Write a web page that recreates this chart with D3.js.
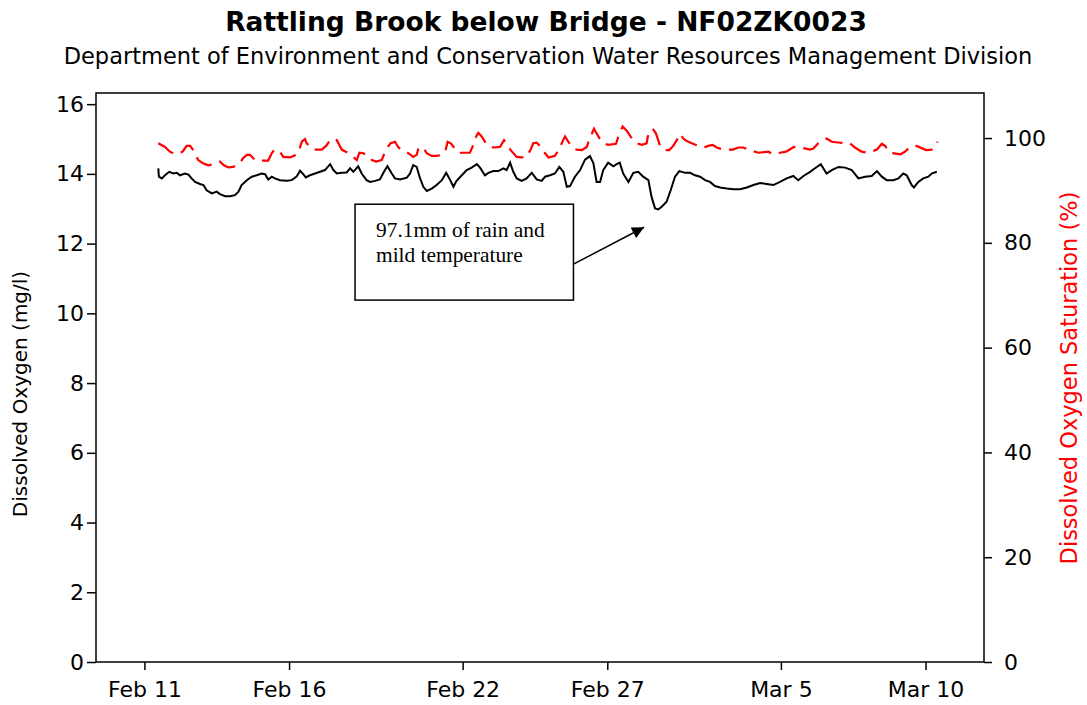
<!DOCTYPE html>
<html lang="en">
<head>
<meta charset="utf-8">
<title>Rattling Brook below Bridge - NF02ZK0023</title>
<script src="https://d3js.org/d3.v7.min.js"></script>
<style>
  body { margin: 0; background: #fff; }
  svg { display: block; font-family: "DejaVu Sans", Verdana, sans-serif; }
</style>
</head>
<body>
<script>
// days counted from Feb 11 00:00
const startDate = new Date(2010, 1, 11);
const xDomain = [new Date(2010, 1, 9, 7, 50), new Date(2010, 2, 12, 0, 30)];
const xTickDates = [new Date(2010, 1, 11), new Date(2010, 1, 16), new Date(2010, 1, 22),
                    new Date(2010, 1, 27), new Date(2010, 2, 5), new Date(2010, 2, 10)];
const yLeftTicks = [0, 2, 4, 6, 8, 10, 12, 14, 16];
const yRightTicks = [0, 20, 40, 60, 80, 100];

// dissolved oxygen, mg/l  [day, value]
const oxygenMgL = [[0.48,14.16],[0.50,13.92],[0.60,13.87],[0.71,13.96],[0.86,14.06],[1.00,14.01],[1.12,14.03],[1.23,13.96],[1.40,14.01],[1.52,13.98],[1.63,13.87],[1.75,13.77],[1.92,13.71],[2.04,13.68],[2.15,13.53],[2.33,13.44],[2.50,13.49],[2.61,13.42],[2.79,13.36],[2.96,13.36],[3.13,13.39],[3.25,13.49],[3.36,13.68],[3.54,13.82],[3.71,13.92],[3.88,13.96],[4.05,14.01],[4.17,13.99],[4.28,13.84],[4.40,13.92],[4.51,13.87],[4.69,13.82],[4.92,13.80],[5.09,13.82],[5.26,13.92],[5.38,14.09],[5.49,13.99],[5.58,13.90],[5.72,13.96],[5.90,14.01],[6.07,14.06],[6.24,14.11],[6.42,14.28],[6.53,14.11],[6.65,14.01],[6.82,14.03],[6.99,14.04],[7.11,14.16],[7.22,14.06],[7.39,14.22],[7.51,14.01],[7.68,13.82],[7.80,13.77],[7.97,13.80],[8.14,13.84],[8.28,14.06],[8.40,14.22],[8.55,14.01],[8.66,13.87],[8.84,13.84],[9.07,13.89],[9.18,14.01],[9.29,14.25],[9.41,14.20],[9.53,13.87],[9.64,13.63],[9.76,13.51],[9.93,13.58],[10.10,13.68],[10.28,13.82],[10.43,14.03],[10.54,13.87],[10.68,13.63],[10.79,13.80],[10.97,13.96],[11.14,14.11],[11.31,14.18],[11.49,14.28],[11.60,14.18],[11.77,13.96],[11.89,14.03],[12.06,14.08],[12.23,14.08],[12.41,14.16],[12.52,14.11],[12.64,14.32],[12.75,14.06],[12.87,13.87],[13.04,13.80],[13.21,13.87],[13.39,14.03],[13.56,13.84],[13.73,13.80],[13.85,13.92],[14.02,13.96],[14.19,14.01],[14.34,14.20],[14.48,14.06],[14.60,13.63],[14.71,13.65],[14.88,13.92],[15.06,14.11],[15.23,14.41],[15.40,14.51],[15.52,14.30],[15.63,13.77],[15.75,13.77],[15.86,14.11],[16.03,14.32],[16.21,14.22],[16.32,14.28],[16.43,14.32],[16.55,14.01],[16.73,13.77],[16.90,14.03],[17.07,14.06],[17.24,13.92],[17.42,13.82],[17.53,13.34],[17.65,13.01],[17.76,12.98],[17.88,13.06],[18.05,13.20],[18.19,13.53],[18.34,13.92],[18.49,14.08],[18.69,14.03],[18.86,14.03],[19.03,13.96],[19.21,13.92],[19.38,13.82],[19.55,13.77],[19.72,13.65],[19.90,13.61],[20.13,13.58],[20.36,13.56],[20.59,13.56],[20.82,13.61],[21.05,13.68],[21.28,13.74],[21.51,13.71],[21.74,13.68],[21.97,13.77],[22.20,13.87],[22.43,13.94],[22.60,13.82],[22.78,13.94],[23.01,14.06],[23.18,14.16],[23.38,14.28],[23.58,14.01],[23.76,14.11],[23.99,14.20],[24.22,14.18],[24.45,14.11],[24.68,13.87],[24.91,13.92],[25.14,13.94],[25.32,14.08],[25.49,13.92],[25.66,13.82],[25.89,13.82],[26.06,13.87],[26.23,14.01],[26.35,13.96],[26.52,13.68],[26.60,13.61],[26.75,13.77],[26.92,13.87],[27.10,13.92],[27.21,14.01],[27.39,14.06]];

// dissolved oxygen saturation, %  [day, value]
const saturationPct = [[0.48,99.0],[0.71,98.3],[0.88,97.4],[1.06,96.9],[1.20,97.1],[1.32,97.4],[1.46,98.5],[1.58,98.5],[1.69,97.7],[1.75,96.9],[1.86,95.8],[2.02,95.2],[2.21,94.8],[2.38,95.0],[2.61,95.5],[2.75,94.8],[2.90,94.4],[3.07,94.5],[3.30,95.2],[3.40,96.1],[3.54,96.8],[3.65,96.8],[3.82,95.8],[4.00,95.7],[4.28,95.7],[4.40,97.1],[4.48,97.7],[4.66,97.6],[4.80,96.4],[5.03,96.3],[5.17,96.6],[5.32,97.2],[5.44,99.3],[5.55,99.8],[5.61,99.0],[5.78,98.0],[5.93,97.8],[6.13,97.8],[6.28,98.5],[6.42,99.6],[6.53,99.9],[6.65,99.6],[6.82,97.8],[7.05,97.1],[7.22,96.4],[7.34,95.8],[7.43,97.2],[7.57,97.1],[7.80,96.3],[7.86,95.8],[8.01,95.5],[8.20,95.8],[8.37,98.0],[8.51,99.0],[8.66,99.3],[8.78,98.2],[8.95,97.7],[9.18,96.9],[9.29,96.4],[9.41,96.8],[9.47,98.0],[9.62,98.3],[9.76,97.1],[9.93,96.6],[10.10,96.6],[10.28,96.8],[10.40,97.4],[10.48,99.3],[10.59,99.0],[10.73,98.0],[10.85,97.2],[11.02,97.2],[11.25,97.2],[11.34,98.3],[11.43,99.9],[11.54,101.0],[11.66,100.3],[11.77,99.3],[11.95,98.3],[12.08,98.2],[12.29,98.3],[12.43,99.6],[12.52,98.9],[12.66,97.7],[12.87,96.4],[13.04,96.3],[13.21,96.4],[13.35,97.8],[13.44,99.0],[13.56,99.1],[13.73,98.2],[13.85,97.1],[13.97,96.3],[14.19,96.6],[14.37,98.2],[14.40,98.7],[14.48,99.7],[14.54,100.3],[14.65,99.3],[14.83,98.0],[14.94,97.8],[15.12,97.7],[15.29,98.3],[15.40,100.0],[15.54,101.8],[15.66,100.6],[15.77,99.6],[15.86,99.0],[16.03,98.7],[16.30,98.9],[16.42,100.9],[16.53,102.2],[16.67,101.4],[16.79,100.4],[16.90,99.5],[17.02,99.0],[17.19,98.7],[17.36,99.0],[17.40,100.3],[17.57,101.8],[17.68,100.9],[17.76,99.6],[17.82,98.5],[17.99,97.7],[18.14,97.7],[18.28,98.5],[18.40,99.6],[18.51,100.8],[18.63,99.9],[18.72,99.5],[18.92,99.0],[19.15,98.5],[19.34,98.2],[19.49,98.5],[19.64,98.7],[19.78,98.2],[20.01,97.8],[20.34,97.8],[20.53,98.2],[20.70,98.2],[20.93,97.7],[21.22,97.2],[21.57,97.4],[21.74,96.9],[21.97,97.2],[22.18,97.4],[22.45,98.3],[22.66,98.2],[23.01,97.8],[23.12,98.0],[23.29,99.0],[23.45,99.6],[23.58,99.9],[23.76,99.3],[24.04,99.1],[24.39,99.0],[24.56,98.2],[24.79,97.4],[25.02,97.2],[25.32,97.8],[25.49,98.9],[25.60,98.5],[25.77,97.2],[26.14,96.9],[26.29,97.4],[26.46,98.3],[26.69,98.5],[27.02,97.7],[27.21,97.8],[27.39,99.0],[27.41,99.3]];

// note box, in chart units (day, mg/l)
const noteLines = ["97.1mm of rain and", "mild temperature"];
const noteBox = { from: 7.28, to: 14.83, top: 13.13, bottom: 10.38 };
const noteArrow = { from: [14.83, 11.41], to: [17.27, 12.47] };

const w = 1087, h = 705;
const plotLeft = 96, plotRight = 984, plotTop = 93, plotBottom = 662;

const toDate = d => new Date(startDate.getTime() + d * 864e5);

const x = d3.scaleTime().domain(xDomain).range([plotLeft, plotRight]);
const yL = d3.scaleLinear().domain([0, 16.32]).range([plotBottom, plotTop]);
const yR = d3.scaleLinear().domain([0, 108.6]).range([plotBottom, plotTop]);

const svg = d3.select("body").append("svg")
  .attr("width", w)
  .attr("height", h);

// titles
svg.append("text")
  .attr("x", 546).attr("y", 31)
  .attr("text-anchor", "middle")
  .attr("font-weight", "bold")
  .attr("font-size", 26.5)
  .text("Rattling Brook below Bridge - NF02ZK0023");

svg.append("text")
  .attr("x", 548).attr("y", 64)
  .attr("text-anchor", "middle")
  .attr("font-size", 22.5)
  .text("Department of Environment and Conservation Water Resources Management Division");

// lines
const oxyLine = d3.line()
  .x(d => x(toDate(d[0])))
  .y(d => yL(d[1]));

const satLine = d3.line()
  .x(d => x(toDate(d[0])))
  .y(d => yR(d[1]));

svg.append("path")
  .datum(saturationPct)
  .attr("d", satLine)
  .attr("fill", "none")
  .attr("stroke", "#ff0000")
  .attr("stroke-width", 2.2)
  .attr("stroke-dasharray", "18,8");

svg.append("path")
  .datum(oxygenMgL)
  .attr("d", oxyLine)
  .attr("fill", "none")
  .attr("stroke", "#000")
  .attr("stroke-width", 2);

// frame
svg.append("rect")
  .attr("x", plotLeft).attr("y", plotTop)
  .attr("width", plotRight - plotLeft).attr("height", plotBottom - plotTop)
  .attr("fill", "none")
  .attr("stroke", "#000")
  .attr("stroke-width", 1.5);

// axes
const xAxis = d3.axisBottom(x)
  .tickValues(xTickDates)
  .tickFormat(d3.timeFormat("%b %-d"))
  .tickSize(8).tickSizeOuter(0).tickPadding(11);

const leftAxis = d3.axisLeft(yL)
  .tickValues(yLeftTicks)
  .tickSize(9).tickSizeOuter(0).tickPadding(3);

const rightAxis = d3.axisRight(yR)
  .tickValues(yRightTicks)
  .tickSize(8).tickSizeOuter(0).tickPadding(12);

function styleAxis(g) {
  g.select(".domain").remove();
  g.selectAll(".tick line").attr("stroke", "#000").attr("stroke-width", 1.5);
  g.selectAll(".tick text").attr("fill", "#000");
  g.attr("font-family", "DejaVu Sans, Verdana, sans-serif").attr("font-size", 22);
}

svg.append("g")
  .attr("transform", "translate(0," + plotBottom + ")")
  .call(xAxis).call(styleAxis);

svg.append("g")
  .attr("transform", "translate(" + plotLeft + ",0)")
  .call(leftAxis).call(styleAxis);

svg.append("g")
  .attr("transform", "translate(" + plotRight + ",0)")
  .call(rightAxis).call(styleAxis);

// axis titles
svg.append("text")
  .attr("transform", "translate(27," + 394 + ") rotate(-90)")
  .attr("text-anchor", "middle")
  .attr("font-size", 20)
  .text("Dissolved Oxygen (mg/l)");

svg.append("text")
  .attr("transform", "translate(1077," + 378 + ") rotate(-90)")
  .attr("text-anchor", "middle")
  .attr("font-size", 22.5)
  .attr("fill", "#ff0000")
  .text("Dissolved Oxygen Saturation (%)");

// note with arrow
svg.append("defs").append("marker")
  .attr("id", "head")
  .attr("viewBox", "0 0 10 10")
  .attr("refX", 10).attr("refY", 5)
  .attr("markerWidth", 14).attr("markerHeight", 12)
  .attr("markerUnits", "userSpaceOnUse")
  .attr("orient", "auto")
  .append("path")
  .attr("d", "M0,0L10,5L0,10Z")
  .attr("fill", "#000");

const bx0 = x(toDate(noteBox.from)), bx1 = x(toDate(noteBox.to));
const by0 = yL(noteBox.top), by1 = yL(noteBox.bottom);

svg.append("rect")
  .attr("x", bx0).attr("y", by0)
  .attr("width", bx1 - bx0).attr("height", by1 - by0)
  .attr("fill", "#fff")
  .attr("stroke", "#000")
  .attr("stroke-width", 1.5);

svg.selectAll(".note")
  .data(noteLines)
  .enter()
  .append("text")
  .attr("class", "note")
  .attr("x", bx0 + 21)
  .attr("y", (d, i) => by0 + 33 + i * 25)
  .attr("font-family", "Liberation Serif, Times New Roman, serif")
  .attr("font-size", 21.4)
  .text(d => d);

svg.append("line")
  .attr("x1", x(toDate(noteArrow.from[0]))).attr("y1", yL(noteArrow.from[1]))
  .attr("x2", x(toDate(noteArrow.to[0]))).attr("y2", yL(noteArrow.to[1]))
  .attr("stroke", "#000")
  .attr("stroke-width", 1.5)
  .attr("marker-end", "url(#head)");
</script>
</body>
</html>
